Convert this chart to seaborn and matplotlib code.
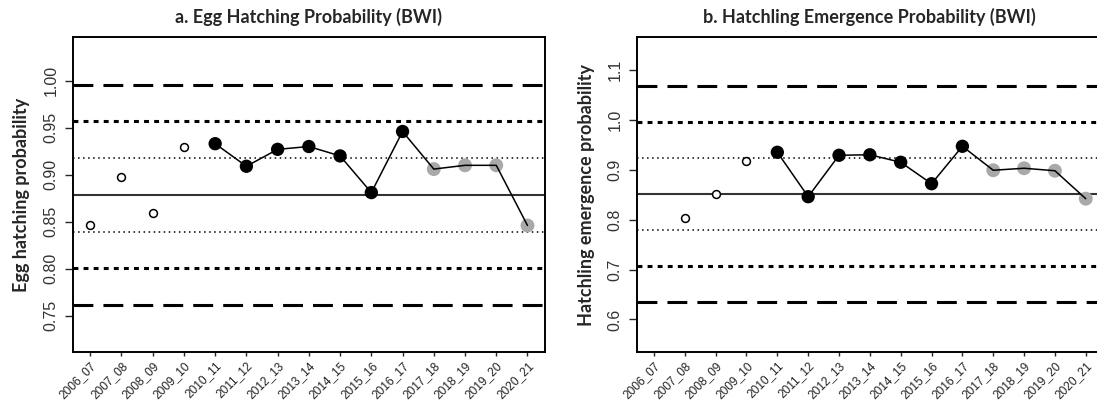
import numpy as np
import pandas as pd
import matplotlib
matplotlib.use("Agg")
import matplotlib.pyplot as plt
import seaborn as sns

# ---- data -----------------------------------------------------------------
seasons = ["2006_07", "2007_08", "2008_09", "2009_10", "2010_11", "2011_12",
           "2012_13", "2013_14", "2014_15", "2015_16", "2016_17", "2017_18",
           "2018_19", "2019_20", "2020_21"]
point_kind = ["open", "open", "open", "open",
              "filled", "filled", "filled", "filled", "filled", "filled", "filled",
              "grey", "grey", "grey", "grey"]

egg_hatch = [0.846, 0.898, 0.859, 0.929, 0.933, 0.909, 0.927, 0.930,
             0.920, 0.881, 0.946, 0.906, 0.910, 0.910, 0.846]
egg_mean, egg_sd = 0.8786, 0.0391

emergence = [np.nan, 0.803, 0.852, 0.917, 0.935, 0.846, 0.929, 0.930,
             0.915, 0.872, 0.947, 0.899, 0.903, 0.898, 0.842]
emerg_mean, emerg_sd = 0.8515, 0.0724

egg_ticks = [0.75, 0.80, 0.85, 0.90, 0.95, 1.00]
egg_tick_labels = ["0.75", "0.80", "0.85", "0.90", "0.95", "1.00"]
emerg_ticks = [0.6, 0.7, 0.8, 0.9, 1.0, 1.1]
emerg_tick_labels = ["0.6", "0.7", "0.8", "0.9", "1.0", "1.1"]

# ---- style ------------------------------------------------------------------
sns.set_style("white")
plt.rcParams["font.family"] = ["Liberation Sans", "DejaVu Sans"]

# line styles for mean +/- k*sd (R style control chart)
ref_styles = {
    1: dict(lw=1.1, dashes=(1.0, 2.3)),
    2: dict(lw=2.2, dashes=(1.6, 1.7)),
    3: dict(lw=2.2, dashes=(6.5, 3.3)),
}


def panel(ax, values, mean, sd, title, ylabel, ylim, ticks, tick_labels, label_x):
    df = pd.DataFrame({"pos": np.arange(len(seasons)), "value": values, "kind": point_kind})

    ax.axhline(mean, color="#333333", lw=1.5, zorder=1)
    for k, st in ref_styles.items():
        for sgn in (1, -1):
            ax.axhline(mean + sgn * k * sd, color="black", lw=st["lw"],
                       dashes=st["dashes"], zorder=1)

    sns.scatterplot(data=df[df.kind == "grey"], x="pos", y="value", s=100,
                    color="#a9a9a9", edgecolor="none", ax=ax, zorder=2)
    sns.lineplot(data=df[df.kind != "open"], x="pos", y="value", color="black",
                 lw=1.1, ax=ax, zorder=3)
    sns.scatterplot(data=df[df.kind == "filled"], x="pos", y="value", s=92,
                    color="black", edgecolor="none", ax=ax, zorder=4)
    sns.scatterplot(data=df[df.kind == "open"], x="pos", y="value", s=32,
                    color="white", edgecolor="black", linewidth=1.1, ax=ax, zorder=4)

    ax.set_xlim(-0.56, len(seasons) - 1 + 0.56)
    ax.set_ylim(*ylim)
    ax.set_xticks(np.arange(len(seasons)))
    ax.set_xticklabels(seasons, rotation=45, ha="right", rotation_mode="anchor",
                       fontsize=8.6, color="#222222")
    ax.set_yticks(ticks)
    ax.set_yticklabels(tick_labels, rotation=90, va="center", fontsize=11.5,
                       color="#333333")
    ax.tick_params(axis="y", length=6, width=1, pad=4, direction="out", left=True)
    ax.tick_params(axis="x", length=3, width=1, pad=2, direction="out", bottom=True)

    ax.set_xlabel("")
    ax.set_ylabel(ylabel, fontsize=13, fontweight="bold", family=["Lato", "DejaVu Sans"])
    ax.yaxis.set_label_coords(label_x, 0.5)
    ax.set_title(title, fontsize=13, fontweight="bold", family=["Lato", "DejaVu Sans"], pad=10)

    for sp in ax.spines.values():
        sp.set_visible(True)
        sp.set_color("black")
        sp.set_linewidth(1.4)


fig = plt.figure(figsize=(10.97, 4.0), dpi=100)
ax1 = fig.add_axes([0.0663, 0.119, 0.4305, 0.7885])
ax2 = fig.add_axes([0.5804, 0.119, 0.4251, 0.7885])

panel(ax1, egg_hatch, egg_mean, egg_sd, "a. Egg Hatching Probability (BWI)",
      "Egg hatching probability", (0.711, 1.0465), egg_ticks, egg_tick_labels, -0.09)
panel(ax2, emergence, emerg_mean, emerg_sd, "b. Hatchling Emergence Probability (BWI)",
      "Hatchling emergence probability", (0.534, 1.166), emerg_ticks, emerg_tick_labels, -0.09)

fig.savefig("out.png", dpi=100)
